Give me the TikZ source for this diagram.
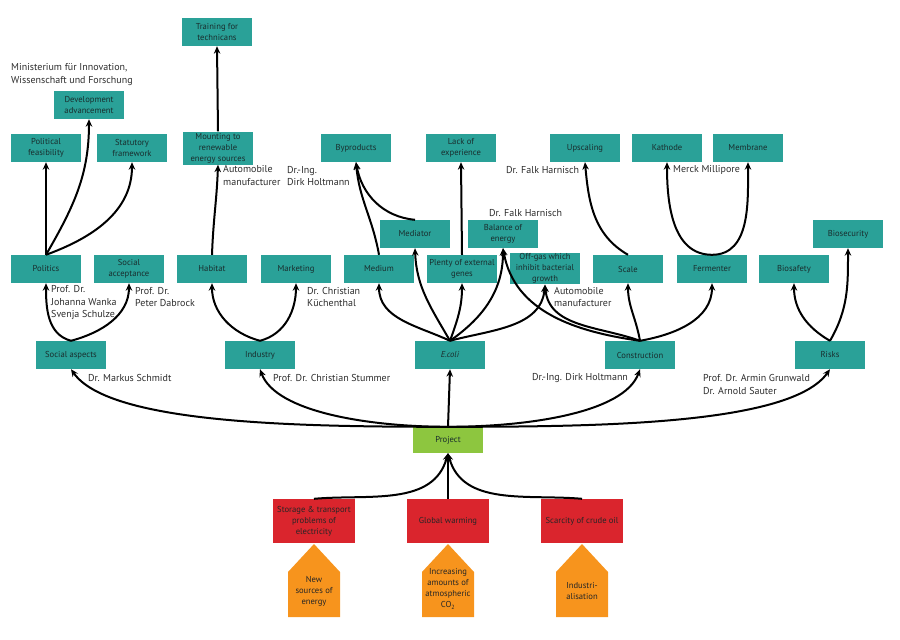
\documentclass[tikz,border=0pt]{standalone}
\usepackage{fontspec}
\setmainfont{PT Sans}
\usetikzlibrary{arrows.meta,positioning}
\definecolor{boxteal}{RGB}{42,161,152}
\definecolor{projgreen}{RGB}{141,198,63}
\definecolor{causered}{RGB}{218,37,45}
\definecolor{rootorange}{RGB}{247,148,29}
\definecolor{boxtext}{RGB}{25,45,45}
\definecolor{labeltext}{RGB}{45,45,45}

\begin{document}
\begin{tikzpicture}[x=1pt,y=-1pt,>={Stealth[length=7.5pt,width=6.5pt]},
  box/.style={fill=boxteal,minimum width=70pt,minimum height=28pt,inner sep=1pt,
    align=center,text=boxtext,font=\fontsize{8.6}{11}\selectfont},
  cause/.style={box,fill=causered,minimum width=82pt,minimum height=44pt,text=black!85},
  rootlabel/.style={align=center,text=black!85,inner sep=0pt,font=\fontsize{8.6}{11}\selectfont},
  person/.style={anchor=west,align=left,inner sep=0pt,text=labeltext,
    font=\fontsize{10}{12.5}\selectfont},
  link/.style={->,line width=2pt}]
  \useasboundingbox (0,0) rectangle (900,640);

  % Upper goals.
  \node[box] (training) at (217,32) {Training for\\technicans};
  \node[box] (devel) at (89,105) {Development\\advancement};
  \node[box] (polfeas) at (46,148) {Political\\feasibility};
  \node[box] (statut) at (132,148) {Statutory\\framework};
  \node[box,minimum height=33pt] (mounting) at (218,148) {Mounting to\\renewable\\energy sources};
  \node[box] (byprod) at (356,148) {Byproducts};
  \node[box] (lack) at (461,148) {Lack of\\experience};
  \node[box] (upscal) at (585,148) {Upscaling};
  \node[box] (kathode) at (667,148) {Kathode};
  \node[box] (membrane) at (748,148) {Membrane};

  \node[box] (mediator) at (415,234) {Mediator};
  \node[box] (balance) at (503,234) {Balance of\\energy};
  \node[box] (biosec) at (848,234) {Biosecurity};

  % Sub-topics.
  \node[box] (politics) at (46,269) {Politics};
  \node[box] (socacc) at (129,269) {Social\\acceptance};
  \node[box] (habitat) at (212,269) {Habitat};
  \node[box] (marketing) at (296,269) {Marketing};
  \node[box] (medium) at (379,269) {Medium};
  \node[box] (plenty) at (462,269) {Plenty of external\\genes};
  \node[box,minimum height=31pt] (offgas) at (545,268.5) {Off-gas which\\inhibit bacterial\\growth};
  \node[box] (scale) at (628,269) {Scale};
  \node[box] (ferment) at (712,269) {Fermenter};
  \node[box] (biosafe) at (794,269) {Biosafety};

  % Main topics.
  \node[box] (socasp) at (71,355) {Social aspects};
  \node[box] (industry) at (260,355) {Industry};
  \node[box] (ecoli) at (450,355) {\textit{E.coli}};
  \node[box] (constr) at (640,355) {Construction};
  \node[box] (risks) at (830,355) {Risks};

  \node[box,fill=projgreen,minimum height=26pt] (project) at (448,440) {Project};

  % Causes and roots.
  \node[cause] (storage) at (314,521) {Storage \& transport\\problems of\\electricity};
  \node[cause] (warming) at (448,521) {Global warming};
  \node[cause] (scarcity) at (582,521) {Scarcity of crude oil};

  \fill[rootorange] (288,617) -- (288,572) -- (314,544) -- (340,572) -- (340,617) -- cycle;
  \fill[rootorange] (422,617) -- (422,572) -- (448,544) -- (474,572) -- (474,617) -- cycle;
  \fill[rootorange] (556,617) -- (556,572) -- (582,544) -- (608,572) -- (608,617) -- cycle;
  \node[rootlabel] (newsrc) at (314,591) {New\\sources of\\energy};
  \node[rootlabel] (co2) at (448,589) {Increasing\\amounts of\\atmospheric\\CO\textsubscript{2}};
  \node[rootlabel] (industrial) at (582,591) {Industri-\\alisation};

  % People and institutions.
  \node[person] (minist) at (11,74.5) {Ministerium für Innovation,\\Wissenschaft und Forschung};
  \node[person] (automob1) at (223,175.5) {Automobile\\manufacturer};
  \node[person] (holtm1) at (287,176) {Dr.-Ing.\\Dirk Holtmann};
  \node[person] (harn1) at (506,170) {Dr. Falk Harnisch};
  \node[person] (merck) at (673,170) {Merck Millipore};
  \node[person] (harn2) at (489,213) {Dr. Falk Harnisch};
  \node[person] (wanka) at (51,303) {Prof. Dr.\\Johanna Wanka\\Svenja Schulze};
  \node[person] (dabrock) at (135,297) {Prof. Dr.\\Peter Dabrock};
  \node[person] (kuechen) at (307,297) {Dr. Christian\\Küchenthal};
  \node[person] (automob2) at (554,297) {Automobile\\manufacturer};
  \node[person] (schmidt) at (88,378) {Dr. Markus Schmidt};
  \node[person] (stummer) at (273,378) {Prof. Dr. Christian Stummer};
  \node[person] (holtm2) at (532,378) {Dr.-Ing. Dirk Holtmann};
  \node[person] (grunw) at (703,384.5) {Prof. Dr. Armin Grunwald\\Dr. Arnold Sauter};

  % Causes to project.
  \draw[link] (storage.north) to[out=5,in=-105] (project.south);
  \draw[link] (warming.north) -- (project.south);
  \draw[link] (scarcity.north) to[out=175,in=-75] (project.south);

  % Project to main topics.
  \draw[link] (project.north) to[out=180,in=-55,in looseness=0.45] (socasp.south);
  \draw[link] (project.north) to[out=180,in=-70,in looseness=0.6] (industry.south);
  \draw[link] (project.north) -- (ecoli.south);
  \draw[link] (project.north) to[out=0,in=-110,in looseness=0.6] (constr.south);
  \draw[link] (project.north) to[out=0,in=-125,in looseness=0.45] (risks.south);

  % Social aspects.
  \draw[link] (socasp.north) to[out=165,in=-90] (politics.south);
  \draw[link] (socasp.north) to[out=15,in=-90] (socacc.south);
  \draw[link] (politics.north) -- (polfeas.south);
  \draw[link] (politics.north) to[out=60,in=-90] (devel.south);
  \draw[link] (politics.north) to[out=20,in=-90] (statut.south);

  % Industry.
  \draw[link] (industry.north) to[out=165,in=-90] (habitat.south);
  \draw[link] (industry.north) to[out=15,in=-90] (marketing.south);
  \draw[link] (habitat.north) to[out=88,in=-92] (mounting.south);
  \draw[link] (mounting.north) -- (training.south);

  % E.coli.
  \draw[link] (ecoli.north) to[out=155,in=-90] (medium.south);
  \draw[link] (ecoli.north) to[out=120,in=-88] (mediator.south);
  \draw[link] (ecoli.north) to[out=70,in=-90] (plenty.south);
  \draw[link] (ecoli.north) to[out=35,in=-90] (balance.south);
  \draw[link] (ecoli.north) to[out=15,in=-95] (offgas.south);
  \draw[link] (medium.north) to[out=100,in=-85] (byprod.south);
  \draw[link] (mediator.north) to[out=175,in=-80] (byprod.south);
  \draw[link] (plenty.north) -- (lack.south);

  % Construction.
  \draw[link] (constr.north) to[out=172,in=-80] (balance.south);
  \draw[link] (constr.north) to[out=160,in=-85] (offgas.south);
  \draw[link] (constr.north) to[out=100,in=-90] (scale.south);
  \draw[link] (constr.north) to[out=10,in=-90] (ferment.south);
  \draw[link] (scale.north) to[out=150,in=-85] (upscal.south);
  \draw[link] (ferment.north) to[out=180,in=-90] (kathode.south);
  \draw[link] (ferment.north) to[out=0,in=-90] (membrane.south);

  % Risks.
  \draw[link] (risks.north) to[out=150,in=-90] (biosafe.south);
  \draw[link] (risks.north) to[out=60,in=-90] (biosec.south);
\end{tikzpicture}
\end{document}
